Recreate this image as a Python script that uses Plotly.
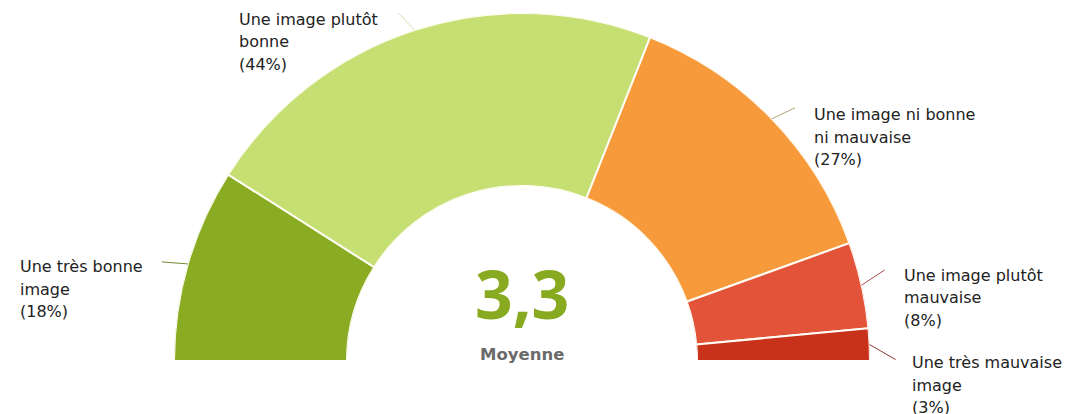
import math
import plotly.graph_objects as go

# ---- data ----
categories = [
    "Une très bonne image",
    "Une image plutôt bonne",
    "Une image ni bonne ni mauvaise",
    "Une image plutôt mauvaise",
    "Une très mauvaise image",
]
label_lines = [
    ["Une très bonne", "image"],
    ["Une image plutôt", "bonne"],
    ["Une image ni bonne", "ni mauvaise"],
    ["Une image plutôt", "mauvaise"],
    ["Une très mauvaise", "image"],
]
values = [18, 44, 27, 8, 3]
average_value = "3,3"
average_label = "Moyenne"

# ---- style ----
colors = ["#8aac22", "#c6df72", "#f69a3b", "#e2533a", "#c8321b"]
conn_colors = ["#6f8a2a", "#d6e3a8", "#b9a27a", "#a8504a", "#8a3a30"]
WIN_W, WIN_H = 1070, 414
BODY = 8  # page body margin of the browser
PL, PT, PW, PH = 174, 13, 696, 348   # plot area in window pixels
CX, CY, R = PL + PW / 2, PT + PH, PH
conn_end = [(-26, -2), (-16, -17), (23, -11), (23, -15), (26, 15)]
text_off = [(-144, 5), (-161, 6), (17, 7), (17, 5), (14, 3)]
LINE_GAP = 22.5
LABEL_FONT = dict(family="DejaVu Sans", size=16, color="#222222")

total = sum(values)
widths = [v / total * 180 for v in values]
mids = []
acc = 0
for w in widths:
    mids.append(acc + w / 2)
    acc += w


def to_paper(px, py):
    return (px - PL) / PW, (CY - py) / PH


fig = go.Figure(
    go.Barpolar(
        r=[1] * len(values),
        theta=mids,
        width=widths,
        text=categories,
        marker=dict(color=colors, line=dict(color="#fffdf5", width=2)),
        hoverinfo="skip",
        showlegend=False,
    )
)

shapes = []
annotations = []
for i, (lines, v, m) in enumerate(zip(label_lines, values, mids)):
    a = math.radians(180 - m)
    sx, sy = CX + R * math.cos(a), CY - R * math.sin(a)
    ex, ey = sx + conn_end[i][0], sy + conn_end[i][1]
    x0, y0 = to_paper(sx, sy)
    x1, y1 = to_paper(ex, ey)
    shapes.append(dict(type="line", xref="paper", yref="paper", x0=x0, y0=y0, x1=x1, y1=y1,
                       line=dict(color=conn_colors[i], width=1)))
    tx, ty = ex + text_off[i][0], ey + text_off[i][1]
    for j, t in enumerate(lines + [f"({v}%)"]):
        px, py = to_paper(tx, ty + j * LINE_GAP)
        annotations.append(dict(x=px, y=py, xref="paper", yref="paper", text=t, showarrow=False,
                                xanchor="left", yanchor="middle", font=LABEL_FONT))

annotations.append(dict(x=0.5, y=(CY - 293) / PH, xref="paper", yref="paper", text=average_value,
                        showarrow=False, xanchor="center", yanchor="middle",
                        font=dict(family="Open Sans", size=66, color="#88aa20", weight="bold")))
annotations.append(dict(x=0.5, y=(CY - 354) / PH, xref="paper", yref="paper", text=average_label,
                        showarrow=False, xanchor="center", yanchor="middle",
                        font=dict(family="DejaVu Sans", size=16.5, color="#6a6a6a", weight="bold")))

fig.update_layout(
    width=WIN_W - BODY, height=WIN_H - BODY,
    margin=dict(l=PL - BODY, r=WIN_W - PL - PW, t=PT - BODY, b=WIN_H - PT - PH, pad=0),
    paper_bgcolor="white",
    plot_bgcolor="white",
    polar=dict(
        domain=dict(x=[0, 1], y=[0, 1]),
        sector=[0, 180],
        hole=0.503,
        bgcolor="white",
        bargap=0,
        radialaxis=dict(visible=False, range=[0, 1]),
        angularaxis=dict(visible=False, rotation=180, direction="clockwise"),
    ),
    shapes=shapes,
    annotations=annotations,
)

fig.write_html("out.html")
